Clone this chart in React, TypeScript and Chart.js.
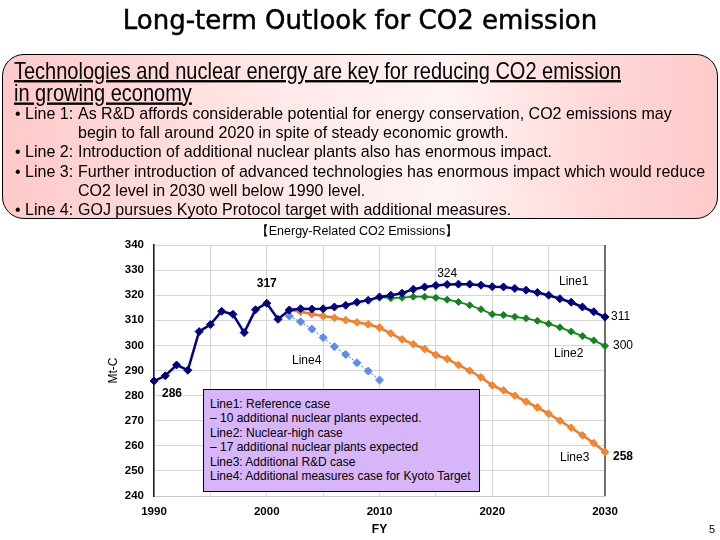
import React, { useEffect, useRef } from "react";
import { Chart, registerables } from "chart.js";

Chart.register(...registerables);

// ---------- DATA ----------
const LINE1_YEARS = [
  1990, 1991, 1992, 1993, 1994, 1995, 1996, 1997, 1998, 1999,
  2000, 2001, 2002, 2003, 2004, 2005, 2006, 2007, 2008, 2009,
  2010, 2011, 2012, 2013, 2014, 2015, 2016, 2017, 2018, 2019,
  2020, 2021, 2022, 2023, 2024, 2025, 2026, 2027, 2028, 2029, 2030,
];
const LINE1_VALUES = [
  285.8, 287.9, 292.2, 290.1, 305.5, 308.3, 313.6, 312.4, 305.1, 314.2,
  316.8, 310.4, 314.1, 314.6, 314.5, 314.6, 315.3, 316.0, 317.2, 318.0,
  319.3, 320.0, 320.8, 322.4, 323.3, 323.9, 324.3, 324.4, 324.4, 324.0,
  323.4, 323.3, 322.7, 322.0, 321.1, 320.0, 318.6, 317.2, 315.3, 313.4, 311.3,
];
const LINE2_YEARS = [
  2010, 2011, 2012, 2013, 2014, 2015, 2016, 2017, 2018, 2019,
  2020, 2021, 2022, 2023, 2024, 2025, 2026, 2027, 2028, 2029, 2030,
];
const LINE2_VALUES = [
  319.3, 318.8, 319.0, 319.4, 319.4, 319.0, 318.2, 317.3, 316.0, 314.4,
  312.4, 312.1, 311.4, 310.8, 309.8, 308.6, 307.2, 305.5, 303.7, 302.0, 299.8,
];
const LINE3_YEARS = [
  2002, 2003, 2004, 2005, 2006, 2007, 2008, 2009,
  2010, 2011, 2012, 2013, 2014, 2015, 2016, 2017, 2018, 2019,
  2020, 2021, 2022, 2023, 2024, 2025, 2026, 2027, 2028, 2029, 2030,
];
const LINE3_VALUES = [
  314.1, 313.4, 312.5, 311.7, 311.0, 310.1, 309.2, 308.4,
  307.1, 304.8, 302.4, 300.5, 298.6, 296.2, 294.6, 292.2, 289.9, 287.3,
  284.1, 282.1, 280.0, 277.6, 275.3, 272.8, 270.0, 267.2, 264.2, 261.1, 257.5,
];
const LINE4_YEARS = [2002, 2003, 2004, 2005, 2006, 2007, 2008, 2009, 2010];
const LINE4_VALUES = [311.7, 309.4, 306.5, 303.1, 299.5, 296.4, 293.1, 289.8, 286.2];

const X_TICK_LABELS = [1990, 2000, 2010, 2020, 2030];
const Y_MIN = 240;
const Y_MAX = 340;

const SANS = "'Liberation Sans', Arial, sans-serif";

const BULLETS = [
  ["Line 1:", "As R&D affords considerable potential for energy conservation, CO2 emissions may", "begin to fall around 2020 in spite of steady economic growth."],
  ["Line 2:", "Introduction of additional nuclear plants also has enormous impact."],
  ["Line 3:", "Further introduction of advanced technologies has enormous impact which would reduce", "CO2 level in 2030 well below 1990 level."],
  ["Line 4:", "GOJ pursues Kyoto Protocol target with additional measures."],
];

const NOTE_LINES = [
  "Line1: Reference case",
  "\u2013 10 additional nuclear plants expected.",
  "Line2: Nuclear-high case",
  "\u2013 17 additional nuclear plants expected",
  "Line3: Additional R&D case",
  "Line4: Additional measures case for Kyoto Target",
];

function toPoints(xs: number[], ys: number[]) {
  return xs.map((x, i) => ({ x, y: ys[i] }));
}

// value labels tied to data points (dataset index, point index, pixel offset)
const VALUE_LABELS = [
  { ds: 0, i: 10, dx: 0, dy: -20, bold: true, align: "center" },
  { ds: 0, i: 0, dx: 18, dy: 13, bold: true, align: "center" },
  { ds: 0, i: 26, dx: 0, dy: -11, bold: false, align: "center" },
  { ds: 0, i: 40, dx: 6, dy: 0, bold: false, align: "left" },
  { ds: 1, i: 20, dx: 8, dy: 0, bold: false, align: "left" },
  { ds: 2, i: 28, dx: 8, dy: 5, bold: true, align: "left" },
];

const overlayPlugin = {
  id: "overlay",
  beforeDatasetsDraw(chart: any) {
    const { ctx, chartArea } = chart;
    ctx.save();
    ctx.strokeStyle = "#707070";
    ctx.lineWidth = 2;
    ctx.beginPath();
    ctx.moveTo(chartArea.right, chartArea.top);
    ctx.lineTo(chartArea.right, chartArea.bottom);
    ctx.stroke();
    ctx.restore();
  },
  afterDatasetsDraw(chart: any) {
    const { ctx } = chart;
    ctx.save();
    ctx.fillStyle = "#000";
    ctx.textBaseline = "middle";
    VALUE_LABELS.forEach((l) => {
      const meta = chart.getDatasetMeta(l.ds);
      const el = meta.data[l.i];
      const raw = chart.data.datasets[l.ds].data[l.i] as any;
      ctx.font = `${l.bold ? "bold " : ""}12px ${SANS}`;
      ctx.textAlign = l.align;
      ctx.fillText(String(Math.round(raw.y)), el.x + l.dx, el.y + l.dy);
    });
    ctx.restore();
  },
};

function EmissionChart() {
  const ref = useRef<HTMLCanvasElement | null>(null);
  useEffect(() => {
    if (!ref.current) return;
    const chart = new Chart(ref.current, {
      type: "line",
      data: {
        datasets: [
          {
            label: "Line1",
            data: toPoints(LINE1_YEARS, LINE1_VALUES),
            borderColor: "#000080",
            backgroundColor: "#000080",
            borderWidth: 2.5,
            pointStyle: "rectRot",
            pointRadius: 4,
            pointBorderWidth: 1,
            tension: 0,
            clip: false,
          },
          {
            label: "Line2",
            data: toPoints(LINE2_YEARS, LINE2_VALUES),
            borderColor: "#12861a",
            backgroundColor: "#12861a",
            borderWidth: 1.8,
            pointStyle: "rectRot",
            pointRadius: 3.5,
            pointBorderWidth: 1,
            tension: 0,
            clip: false,
          },
          {
            label: "Line3",
            data: toPoints(LINE3_YEARS, LINE3_VALUES),
            borderColor: "#f47a22",
            backgroundColor: "#f7862e",
            borderWidth: 2.5,
            pointStyle: "rectRot",
            pointRadius: 3.8,
            pointBorderWidth: 1,
            tension: 0,
            clip: false,
          },
          {
            label: "Line4",
            data: toPoints(LINE4_YEARS, LINE4_VALUES),
            borderColor: "#4468c4",
            backgroundColor: "#5b8cf0",
            pointBorderColor: "#5b8cf0",
            borderWidth: 1,
            borderDash: [2, 2],
            pointStyle: "rectRot",
            pointRadius: 4,
            pointBorderWidth: 1,
            tension: 0,
            clip: false,
          },
        ],
      },
      options: {
        animation: false,
        responsive: false,
        devicePixelRatio: 1,
        layout: { padding: { left: 100, right: 115, top: 245, bottom: 0 } },
        plugins: {
          legend: { display: false },
          tooltip: { enabled: false },
        },
        scales: {
          x: {
            type: "linear",
            min: 1990,
            max: 2030,
            ticks: {
              stepSize: 5,
              autoSkip: false,
              maxRotation: 0,
              padding: 9,
              color: "#000",
              font: { family: SANS, size: 11.5, weight: "bold" },
              callback: (v: any) => (X_TICK_LABELS.includes(Number(v)) ? String(v) : ""),
            },
            grid: { color: "#d6d6d6", lineWidth: 1, drawTicks: false },
            border: { color: "#c8c8c8", width: 1 },
            title: {
              display: true,
              text: "FY",
              color: "#000",
              font: { family: SANS, size: 12, weight: "bold" },
              padding: { top: 0, bottom: 3 },
            },
            afterFit: (s: any) => {
              s.height = 44;
            },
          },
          y: {
            min: Y_MIN,
            max: Y_MAX,
            ticks: {
              stepSize: 10,
              padding: 10,
              color: "#000",
              font: { family: SANS, size: 11.5, weight: "bold" },
            },
            grid: { color: "#d6d6d6", lineWidth: 1, drawTicks: false },
            border: { color: "#14143c", width: 1.5 },
            title: {
              display: true,
              text: "Mt-C",
              color: "#000",
              font: { family: SANS, size: 12 },
              padding: { top: 6, bottom: 0 },
            },
            afterFit: (s: any) => {
              s.width = 54;
            },
          },
        },
      },
      plugins: [overlayPlugin],
    } as any);
    return () => chart.destroy();
  }, []);
  return (
    <canvas
      ref={ref}
      width={720}
      height={540}
      style={{ position: "absolute", left: 0, top: 0, width: 720, height: 540 }}
    />
  );
}

const abs = (x: number, y: number, extra: any = {}) => ({
  position: "absolute" as const,
  left: x,
  top: y,
  whiteSpace: "nowrap" as const,
  ...extra,
});

export default function App() {
  return (
    <div
      style={{
        position: "absolute",
        left: 0,
        top: 0,
        width: 720,
        height: 540,
        background: "#fff",
        overflow: "hidden",
        fontFamily: SANS,
        color: "#000",
      }}
    >
      <EmissionChart />

      {/* Title */}
      <div
        style={abs(0, 3, {
          width: 720,
          textAlign: "center",
          fontFamily: "'DejaVu Sans', sans-serif",
          fontSize: 26,
          lineHeight: "34px",
          WebkitTextStroke: "0.5px #000",
        })}
      >
        Long-term Outlook for CO2 emission
      </div>

      {/* Pink box */}
      <div
        style={abs(2, 54, {
          width: 714,
          height: 163,
          borderRadius: 22,
          border: "1px solid #000",
          background: "linear-gradient(to right, #ffc9c9 0%, #ffe6e6 35%, #fff3f3 62%, #ffd6d6 85%, #ffcaca 100%)",
        })}
      />
      <div
        style={abs(14, 60, {
          fontSize: 20,
          lineHeight: "18.6px",
          textDecoration: "underline",
          transform: "scaleY(1.18)",
          transformOrigin: "left top",
        })}
      >
        Technologies and nuclear energy are key for reducing CO2 emission
        <br />
        in growing economy
      </div>
      {(() => {
        const rows: any[] = [];
        let r = 0;
        BULLETS.forEach((b, bi) => {
          rows.push(
            <div key={`b${bi}`} style={abs(15, 103 + r * 19.2, { fontSize: 16, lineHeight: "19px", transform: "scaleY(1.05)", transformOrigin: "left top" })}>
              {"\u2022 " + b[0]}
            </div>
          );
          b.slice(1).forEach((t, ti) => {
            rows.push(
              <div key={`t${bi}-${ti}`} style={abs(78, 103 + r * 19.2, { fontSize: 16, lineHeight: "19px", transform: "scaleY(1.05)", transformOrigin: "left top" })}>
                {t}
              </div>
            );
            r++;
          });
        });
        return rows;
      })()}

      {/* Chart subtitle */}
      <div style={abs(0, 223, { width: 714, textAlign: "center", fontSize: 12.5, lineHeight: "16px" })}>
        {"\u3010Energy-Related CO2 Emissions\u3011"}
      </div>

      {/* Note box */}
      <div
        style={abs(203, 389, {
          width: 275,
          height: 101,
          background: "#d6b5f8",
          border: "1px solid #000",
        })}
      />
      {NOTE_LINES.map((t, i) => (
        <div key={i} style={abs(210, 397 + i * 14.4, { fontSize: 12, lineHeight: "15px" })}>
          {t}
        </div>
      ))}

      {/* Line names */}
      <div style={abs(559, 274, { fontSize: 12, lineHeight: "15px" })}>Line1</div>
      <div style={abs(554, 346, { fontSize: 12, lineHeight: "15px" })}>Line2</div>
      <div style={abs(560, 450, { fontSize: 12, lineHeight: "15px" })}>Line3</div>
      <div style={abs(292, 353, { fontSize: 12, lineHeight: "15px" })}>Line4</div>

      {/* Page number */}
      <div style={abs(709, 522, { fontSize: 11, lineHeight: "14px" })}>5</div>
    </div>
  );
}
